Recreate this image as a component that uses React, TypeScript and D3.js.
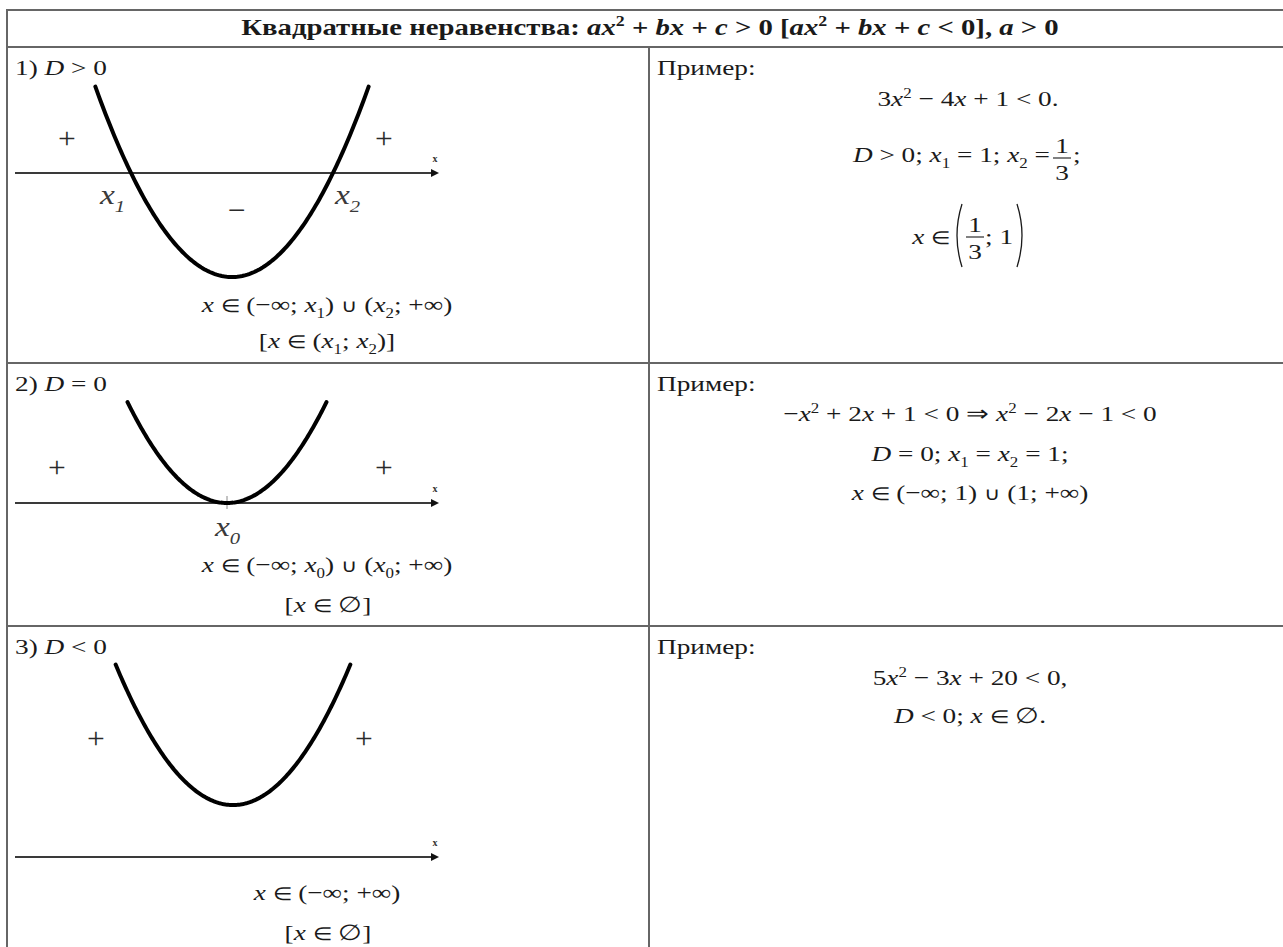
import * as d3 from "d3";

// page + table frame
const W = 1283;
const H = 947;
const TABLE_LEFT = 7;
const TABLE_TOP = 10;
const HEADER_BOTTOM = 47;
const DIVIDER_X = 649;
const ROW_TOPS = [47, 363, 626];

const FONT = "'Liberation Serif', 'Times New Roman', serif";
const TEXT_COLOR = "#1a1a1a";
const BORDER_COLOR = "#666";
// the source scan is stretched horizontally, so every glyph gets this x factor
const SX = 1.24;

// texts
const HEADER = "Квадратные неравенства: ax^2 + bx + c > 0 [ax^2 + bx + c < 0], a > 0";
const CASE_LABELS = ["1) D > 0", "2) D = 0", "3) D < 0"];
const EXAMPLE_LABEL = "Пример:";
const ANSWERS = [
  ["x ∈ (−∞; x_1) ∪ (x_2; +∞)", "[x ∈ (x_1; x_2)]"],
  ["x ∈ (−∞; x_0) ∪ (x_0; +∞)", "[x ∈ ∅]"],
  ["x ∈ (−∞; +∞)", "[x ∈ ∅]"],
];
const EXAMPLES_2 = ["−x^2 + 2x + 1 < 0 ⇒ x^2 − 2x − 1 < 0", "D = 0; x_1 = x_2 = 1;", "x ∈ (−∞; 1) ∪ (1; +∞)"];
const EXAMPLES_3 = ["5x^2 − 3x + 20 < 0,", "D < 0; x ∈ ∅."];
const EXAMPLE_1_LINE = "3x^2 − 4x + 1 < 0.";

// parabolas y = x^2 + c, drawn up to the arm tops (data units)
const VERTEX_VALUES = [-1, 0, 0.5];
const ARM_TOPS = [0.83, 0.97, 1.85];
const ROOT_VALUES = [[-1, 1], [0], []];
const ROOT_LABELS = [["1", "2"], ["0"], []];
const SIGN_LABELS = [["+", "−", "+"], ["+", "+"], ["+", "+"]];

// layout of the sketches (pixels)
const ORIGINS = [
  { x: 232, y: 173 },
  { x: 227, y: 503 },
  { x: 233, y: 857 },
];
const AXIS_X0 = 15;
const AXIS_X1 = 439;
const SIGN_OFFSETS = [
  [{ dx: -165, dy: -35 }, { dx: 5, dy: 37 }, { dx: 152, dy: -35 }],
  [{ dx: -170, dy: -36 }, { dx: 157, dy: -36 }],
  [{ dx: -137, dy: -119 }, { dx: 131, dy: -119 }],
];
const ROOT_LABEL_DX = [[-31, 2], [-12], []];
const ROOT_LABEL_DY = [31, 33];

const xScale = d3.scaleLinear().domain([-1, 1]).range([-101, 101]);
const yScale = d3.scaleLinear().domain([0, 1]).range([0, -104]);

type Run = { t: string; mode: string; it: boolean; sym: boolean };

function parseMath(src: string): Run[] {
  const runs: Run[] = [];
  let i = 0;
  while (i < src.length) {
    let ch = src[i];
    let mode = "n";
    if (ch === "_" || ch === "^") {
      mode = ch === "_" ? "sub" : "sup";
      i++;
      ch = src[i];
    }
    const it = /[A-Za-z]/.test(ch);
    const sym = ch === "∈" || ch === "∪";
    const last = runs[runs.length - 1];
    if (last && last.mode === mode && last.it === it && last.sym === sym) last.t += ch;
    else runs.push({ t: ch, mode, it, sym });
    i++;
  }
  return runs;
}

function MathText({
  src,
  x,
  y,
  size = 22,
  anchor = "middle",
  bold = false,
  subItalic = false,
  fill = TEXT_COLOR,
  sx = SX,
}: any) {
  const runs = parseMath(src);
  let shift = 0;
  return (
    <text
      transform={`translate(${x},${y}) scale(${sx},1)`}
      textAnchor={anchor}
      fontFamily={FONT}
      fontSize={size}
      fontWeight={bold ? "bold" : "normal"}
      fill={fill}
      style={{ whiteSpace: "pre" }}
    >
      {runs.map((r, k) => {
        const target = r.mode === "sub" ? size * 0.28 : r.mode === "sup" ? -size * 0.38 : 0;
        const dy = target - shift;
        shift = target;
        const fs = r.mode === "n" ? (r.sym ? size * 0.8 : size) : size * 0.62;
        return (
          <tspan
            key={k}
            dy={dy}
            fontStyle={r.it || (subItalic && r.mode === "sub") ? "italic" : "normal"}
            fontWeight={r.sym ? "normal" : undefined}
            fontSize={fs}
          >
            {r.t}
          </tspan>
        );
      })}
    </text>
  );
}

function Fraction({ cx, barY, num, den, size = 22 }: any) {
  return (
    <g>
      <MathText src={num} x={cx} y={barY - 5} size={size} />
      <line x1={cx - 9} x2={cx + 9} y1={barY} y2={barY} stroke={TEXT_COLOR} strokeWidth={1.1} />
      <MathText src={den} x={cx} y={barY + 22} size={size} />
    </g>
  );
}

function Sketch({ i }: { i: number }) {
  const o = ORIGINS[i];
  const c = VERTEX_VALUES[i];
  const half = Math.sqrt(ARM_TOPS[i] - c);
  const xs = d3.range(-half, half + 1e-9, half / 80);
  const line = d3
    .line<number>()
    .x((d) => xScale(d))
    .y((d) => yScale(d * d + c));
  return (
    <g transform={`translate(${o.x},${o.y})`}>
      <line
        x1={AXIS_X0 - o.x}
        x2={AXIS_X1 - o.x - 6}
        y1={0}
        y2={0}
        stroke="#3a3a3a"
        strokeWidth={2.2}
      />
      <path
        d={`M${AXIS_X1 - o.x},0 L${AXIS_X1 - o.x - 8},-4 L${AXIS_X1 - o.x - 8},4 Z`}
        fill="#111"
      />
      <text
        x={AXIS_X1 - o.x - 4}
        y={-11}
        textAnchor="middle"
        fontFamily={FONT}
        fontWeight="bold"
        fontSize={10}
        fill="#333"
      >
        x
      </text>
      {i === 1 && (
        <line x1={0} x2={0} y1={-7} y2={6} stroke="#888" strokeWidth={1} />
      )}
      <path d={line(xs) ?? ""} fill="none" stroke="#000" strokeWidth={4} strokeLinecap="round" />
      {SIGN_LABELS[i].map((s, k) => (
        <MathText
          key={k}
          src={s}
          x={SIGN_OFFSETS[i][k].dx}
          y={SIGN_OFFSETS[i][k].dy + 10}
          size={30}
          sx={1.05}
          fill="#2a2a2a"
        />
      ))}
      {ROOT_VALUES[i].map((r, k) => (
        <MathText
          key={k}
          src={`x_${ROOT_LABELS[i][k]}`}
          x={xScale(r) + ROOT_LABEL_DX[i][k]}
          y={i === 0 ? ROOT_LABEL_DY[0] : ROOT_LABEL_DY[1]}
          size={27}
          anchor="start"
          subItalic
          fill="#3a3a3a"
        />
      ))}
    </g>
  );
}

function Paren({ x, top, bottom, dir }: any) {
  const mid = (top + bottom) / 2;
  const bulge = dir * -10;
  return (
    <path
      d={`M${x},${top} Q${x + bulge},${mid} ${x},${bottom}`}
      fill="none"
      stroke={TEXT_COLOR}
      strokeWidth={1.3}
    />
  );
}

export default function App() {
  const labelY = ROW_TOPS.map((t) => t + 28);
  return (
    <svg
      width={W}
      height={H}
      style={{ position: "absolute", left: 0, top: 0, background: "#fff" }}
    >
      {/* table lines */}
      <g stroke={BORDER_COLOR} strokeWidth={2}>
        <line x1={TABLE_LEFT} x2={W} y1={TABLE_TOP} y2={TABLE_TOP} />
        <line x1={TABLE_LEFT} x2={W} y1={HEADER_BOTTOM} y2={HEADER_BOTTOM} />
        <line x1={TABLE_LEFT} x2={W} y1={ROW_TOPS[1]} y2={ROW_TOPS[1]} />
        <line x1={TABLE_LEFT} x2={W} y1={ROW_TOPS[2]} y2={ROW_TOPS[2]} />
        <line x1={TABLE_LEFT} x2={TABLE_LEFT} y1={TABLE_TOP - 1} y2={H} />
        <line x1={DIVIDER_X} x2={DIVIDER_X} y1={HEADER_BOTTOM} y2={H} />
      </g>

      <MathText src={HEADER} x={650} y={35} size={23} bold sx={1.25} />

      {CASE_LABELS.map((l, i) => (
        <MathText key={l} src={l} x={15} y={labelY[i]} size={22} anchor="start" />
      ))}
      {ROW_TOPS.map((t, i) => (
        <MathText key={i} src={EXAMPLE_LABEL} x={657} y={labelY[i]} size={22} anchor="start" />
      ))}

      {[0, 1, 2].map((i) => (
        <Sketch key={i} i={i} />
      ))}

      {/* answers under the sketches */}
      <MathText src={ANSWERS[0][0]} x={327} y={312} />
      <MathText src={ANSWERS[0][1]} x={327} y={348} />
      <MathText src={ANSWERS[1][0]} x={327} y={572} />
      <MathText src={ANSWERS[1][1]} x={328} y={612} />
      <MathText src={ANSWERS[2][0]} x={327} y={900} />
      <MathText src={ANSWERS[2][1]} x={328} y={940} />

      {/* example 1 */}
      <MathText src={EXAMPLE_1_LINE} x={968} y={106} />
      <MathText src="D > 0; x_1 = 1; x_2 =" x={1050} y={162} anchor="end" />
      <Fraction cx={1062} barY={158} num="1" den="3" />
      <MathText src=";" x={1073} y={162} anchor="start" />
      <MathText src="x ∈" x={950} y={244} anchor="end" />
      <Paren x={962} top={204} bottom={267} dir={1} />
      <Fraction cx={975} barY={237} num="1" den="3" />
      <MathText src="; 1" x={985} y={244} anchor="start" />
      <Paren x={1017} top={204} bottom={267} dir={-1} />

      {/* example 2 */}
      {EXAMPLES_2.map((s, k) => (
        <MathText key={s} src={s} x={970} y={[421, 461, 500][k]} />
      ))}
      {/* example 3 */}
      {EXAMPLES_3.map((s, k) => (
        <MathText key={s} src={s} x={970} y={[685, 723][k]} />
      ))}
    </svg>
  );
}
